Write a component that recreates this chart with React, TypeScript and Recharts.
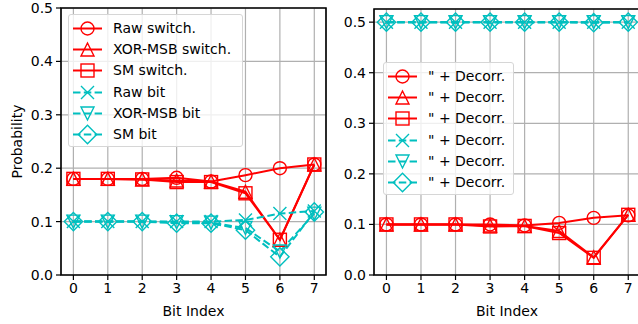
import { LineChart, Line, XAxis, YAxis, CartesianGrid, ReferenceArea } from "recharts"

const bits = [0, 1, 2, 3, 4, 5, 6, 7]

// left panel
const rawSwitch = [0.18, 0.18, 0.18, 0.182, 0.175, 0.187, 0.2, 0.207]
const xorSwitch = [0.18, 0.18, 0.179, 0.177, 0.175, 0.156, 0.066, 0.207]
const smSwitch = [0.18, 0.18, 0.179, 0.174, 0.174, 0.153, 0.066, 0.207]
const rawBit = [0.1, 0.1, 0.1, 0.1, 0.1, 0.103, 0.115, 0.12]
const xorBit = [0.1, 0.1, 0.1, 0.099, 0.098, 0.088, 0.044, 0.115]
const smBit = [0.1, 0.1, 0.1, 0.097, 0.097, 0.084, 0.034, 0.118]

// right panel (decorrelated)
const rawSwitchD = [0.1, 0.1, 0.1, 0.1, 0.098, 0.103, 0.113, 0.118]
const xorSwitchD = [0.1, 0.1, 0.1, 0.098, 0.097, 0.087, 0.035, 0.119]
const smSwitchD = [0.1, 0.1, 0.1, 0.096, 0.097, 0.083, 0.034, 0.119]
const rawBitD = [0.5, 0.5, 0.5, 0.5, 0.5, 0.5, 0.5, 0.5]
const xorBitD = [0.5, 0.5, 0.5, 0.5, 0.5, 0.5, 0.5, 0.5]
const smBitD = [0.5, 0.5, 0.5, 0.5, 0.5, 0.5, 0.499, 0.5]

const leftNames = ["Raw switch.", "XOR-MSB switch.", "SM switch.", "Raw bit", "XOR-MSB bit", "SM bit"]
const rightNames = ['" + Decorr.', '" + Decorr.', '" + Decorr.', '" + Decorr.', '" + Decorr.', '" + Decorr.']

const yTicksLeft = [0, 0.1, 0.2, 0.3, 0.4, 0.5]
const yTicksRight = [0, 0.1, 0.2, 0.3, 0.4, 0.5]

const RED = "#ff0000"
const CYAN = "#00bfbf"
const DASH = "7.5 3.3"
const FONT = "DejaVu Sans"

type Marker = "o" | "^" | "s" | "x" | "v" | "D"

const styles: { marker: Marker; color: string; dash?: string }[] = [
  { marker: "o", color: RED },
  { marker: "^", color: RED },
  { marker: "s", color: RED },
  { marker: "x", color: CYAN, dash: DASH },
  { marker: "v", color: CYAN, dash: DASH },
  { marker: "D", color: CYAN, dash: DASH },
]

function markerShape(m: Marker, cx: number, cy: number, color: string, key?: any) {
  const r = 6.5
  const p = { fill: "none", stroke: color, strokeWidth: 1.4 }
  if (m === "o") return <circle key={key} cx={cx} cy={cy} r={r} {...p} />
  if (m === "s") return <rect key={key} x={cx - r} y={cy - r} width={2 * r} height={2 * r} {...p} />
  if (m === "^")
    return <polygon key={key} points={`${cx},${cy - r} ${cx - r},${cy + r} ${cx + r},${cy + r}`} {...p} />
  if (m === "v")
    return <polygon key={key} points={`${cx},${cy + r} ${cx - r},${cy - r} ${cx + r},${cy - r}`} {...p} />
  if (m === "D") {
    const d = r * 1.41
    return (
      <polygon key={key} points={`${cx},${cy - d} ${cx + d},${cy} ${cx},${cy + d} ${cx - d},${cy}`} {...p} />
    )
  }
  return (
    <path key={key} d={`M${cx - r},${cy - r}L${cx + r},${cy + r}M${cx - r},${cy + r}L${cx + r},${cy - r}`} {...p} />
  )
}

function buildRows(series: number[][]) {
  return bits.map((b, i) => {
    const row: any = { bit: b }
    series.forEach((s, j) => {
      row["s" + j] = s[i]
    })
    return row
  })
}

const leftRows = buildRows([rawSwitch, xorSwitch, smSwitch, rawBit, xorBit, smBit])
const rightRows = buildRows([rawSwitchD, xorSwitchD, smSwitchD, rawBitD, xorBitD, smBitD])

function LegendBox({ names, left, top, width }: { names: string[]; left: number; top: number; width: number }) {
  return (
    <div
      style={{
        position: "absolute",
        left,
        top,
        width,
        height: 133,
        boxSizing: "border-box",
        background: "rgba(255,255,255,0.8)",
        border: "1px solid #d6d6d6",
        borderRadius: 3,
        fontFamily: FONT,
        fontSize: 14,
        color: "#000",
        paddingTop: 3,
      }}
    >
      {names.map((n, i) => (
        <div key={i} style={{ display: "flex", alignItems: "center", height: 21.2 }}>
          <svg width={44} height={21} style={{ flex: "none" }}>
            <line
              x1={4}
              x2={33}
              y1={10.5}
              y2={10.5}
              stroke={styles[i].color}
              strokeWidth={2}
              strokeDasharray={styles[i].dash}
            />
            {markerShape(styles[i].marker, 18.5, 10.5, styles[i].color)}
          </svg>
          <span style={{ whiteSpace: "nowrap", lineHeight: "21px" }}>{n}</span>
        </div>
      ))}
    </div>
  )
}

function Panel({
  rows,
  yMax,
  yTicks,
  width,
  top,
  right,
  yWidth,
  ylabel,
}: {
  rows: any[]
  yMax: number
  yTicks: number[]
  width: number
  top: number
  right: number
  yWidth: number
  ylabel?: string
}) {
  const tickStyle = { fill: "#000", fontSize: 14, fontFamily: FONT }
  return (
    <LineChart width={width} height={324} data={rows} margin={{ top, right, bottom: 0, left: 0 }}>
      <CartesianGrid stroke="#b0b0b0" strokeWidth={1.2} />
      <XAxis
        dataKey="bit"
        type="number"
        domain={[-0.36, 7.34]}
        ticks={bits}
        allowDataOverflow
        height={49}
        tick={tickStyle}
        tickSize={5}
        tickMargin={3}
        tickLine={{ stroke: "#000", strokeWidth: 1.2 }}
        axisLine={false}
        label={{ value: "Bit Index", position: "insideBottom", offset: 8, style: { ...tickStyle } }}
      />
      <YAxis
        type="number"
        domain={[0, yMax]}
        ticks={yTicks}
        allowDataOverflow
        width={yWidth}
        tick={tickStyle}
        tickSize={5}
        tickMargin={3}
        tickLine={{ stroke: "#000", strokeWidth: 1.2 }}
        axisLine={false}
        tickFormatter={(v: number) => v.toFixed(1)}
        label={
          ylabel
            ? {
                value: ylabel,
                angle: -90,
                position: "insideLeft",
                offset: 17,
                style: { ...tickStyle, textAnchor: "middle" },
              }
            : undefined
        }
      />
      {styles.map((s, j) => (
        <Line
          key={j}
          dataKey={"s" + j}
          type="linear"
          stroke={s.color}
          strokeWidth={2}
          strokeDasharray={s.dash}
          isAnimationActive={false}
          dot={(p: any) => markerShape(s.marker, p.cx, p.cy, s.color, p.index)}
          activeDot={false}
        />
      ))}
      <ReferenceArea x1={-0.36} x2={7.34} y1={0} y2={yMax} fill="none" stroke="#000" strokeWidth={1.6} />
    </LineChart>
  )
}

export default function App() {
  return (
    <div
      style={{
        position: "absolute",
        left: 0,
        top: 0,
        width: 638,
        height: 324,
        overflow: "hidden",
        background: "#fff",
      }}
    >
      <div style={{ position: "absolute", left: 0, top: 0 }}>
        <Panel rows={leftRows} yMax={0.5} yTicks={yTicksLeft} width={330} top={8} right={4} yWidth={61} ylabel="Probability" />
      </div>
      <div style={{ position: "absolute", left: 320, top: 0 }}>
        <Panel rows={rightRows} yMax={0.526} yTicks={yTicksRight} width={322} top={9} right={2} yWidth={54} />
      </div>
      <LegendBox names={leftNames} left={68} top={14} width={175} />
      <LegendBox names={rightNames} left={383} top={62} width={131} />
    </div>
  )
}
